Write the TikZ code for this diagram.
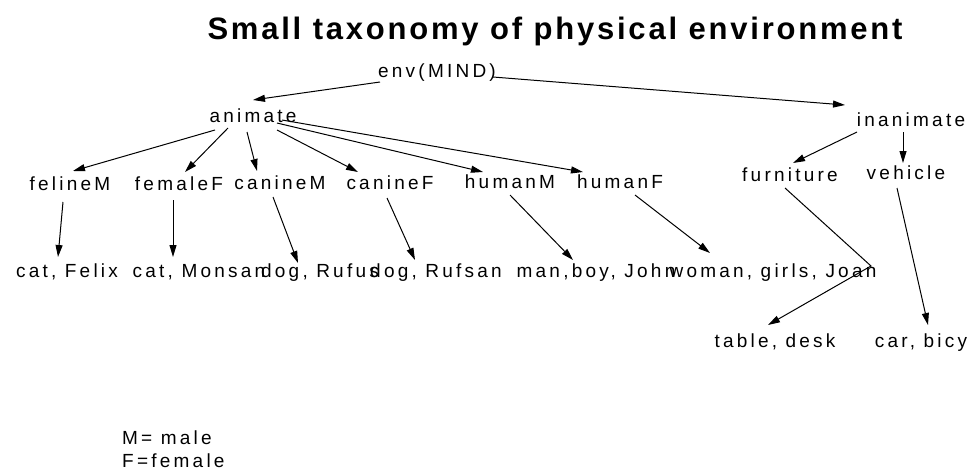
\documentclass[tikz,border=0pt]{standalone}
\usepackage{fontspec}
\setmainfont{Liberation Sans}
\newfontfamily\nodefont[LetterSpace=17]{Liberation Sans}
\newfontfamily\titlefont[LetterSpace=9]{Liberation Sans}
\usetikzlibrary{arrows.meta}
\begin{document}
\begin{tikzpicture}[x=1pt,y=-1pt,
  txt/.style={inner sep=0pt, text height=13.5pt, text depth=4pt, font=\nodefont\fontsize{19}{21}\selectfont},
  titletxt/.style={inner sep=0pt, font=\titlefont\bfseries\fontsize{31}{34}\selectfont},
  arr/.style={draw, line width=1pt, -{Triangle[length=12pt,width=7pt]}}]
\useasboundingbox (0,0) rectangle (977,474);
\fill[white] (0,0) rectangle (977,474);
\node[titletxt] (title) at (555,31) {Small taxonomy of physical environment};
\node[txt] (env) at (437,73) {env(MIND)};
\node[txt] (animate) at (253,118) {animate};
\node[txt] (inanimate) at (911,122) {inanimate};
\node[txt] (felineM) at (70,186) {felineM};
\node[txt] (femaleF) at (179,186) {femaleF};
\node[txt] (canineM) at (280,185) {canineM};
\node[txt] (canineF) at (390,185) {canineF};
\node[txt] (humanM) at (510,184) {humanM};
\node[txt] (humanF) at (620,184) {humanF};
\node[txt] (furniture) at (790,177) {furniture};
\node[txt] (vehicle) at (906,175) {vehicle};
\node[txt] (catFelix) at (67,273) {cat, Felix};
\node[txt] (catMonsan) at (199,273) {cat, Monsan};
\node[txt] (dogRufus) at (320,273) {dog, Rufus};
\node[txt] (dogRufsan) at (436,273) {dog, Rufsan};
\node[txt] (man) at (596,273) {man,boy, John};
\node[txt] (woman) at (773,273) {woman, girls, Joan};
\node[txt] (table) at (775,343) {table, desk};
\node[txt] (car) at (921,343) {car, bicy};
\node[txt, anchor=west] (legM) at (122,440) {M= male};
\node[txt, anchor=west] (legF) at (122,463) {F=female};
\coordinate (bend) at (871,266);
\draw[arr] ([shift={(-57,9)}]env.center) -- ([shift={(0,-18)}]animate.center);
\draw[arr] ([shift={(56,4)}]env.center) -- ([shift={(-66,-17)}]inanimate.center);
\draw[arr] ([shift={(-38,12)}]animate.center) -- ([shift={(3,-15)}]felineM.center);
\draw[arr] ([shift={(-25,10)}]animate.center) -- ([shift={(6,-14)}]femaleF.center);
\draw[arr] ([shift={(-6,14)}]animate.center) -- ([shift={(-23,-14)}]canineM.center);
\draw[arr] ([shift={(24,12)}]animate.center) -- ([shift={(-32,-13)}]canineF.center);
\draw[arr] ([shift={(24,5)}]animate.center) -- ([shift={(-27,-12)}]humanM.center);
\draw[arr] ([shift={(29,2)}]animate.center) -- ([shift={(-37,-12)}]humanF.center);
\draw[arr] ([shift={(-54,10)}]inanimate.center) -- ([shift={(3,-14)}]furniture.center);
\draw[arr] ([shift={(-8,10)}]inanimate.center) -- ([shift={(-3,-12)}]vehicle.center);
\draw[arr] ([shift={(-7,16)}]felineM.center) -- ([shift={(-9,-16)}]catFelix.center);
\draw[arr] ([shift={(-6,14)}]femaleF.center) -- ([shift={(-26,-16)}]catMonsan.center);
\draw[arr] ([shift={(-7,12)}]canineM.center) -- ([shift={(-22,-10)}]dogRufus.center);
\draw[arr] ([shift={(-3,13)}]canineF.center) -- ([shift={(-21,-13)}]dogRufsan.center);
\draw[arr] ([shift={(0,11)}]humanM.center) -- ([shift={(-23,-13)}]man.center);
\draw[arr] ([shift={(15,11)}]humanF.center) -- ([shift={(-63,-20)}]woman.center);
\draw[arr] ([shift={(-5,11)}]furniture.center) -- (bend) -- ([shift={(-7,-18)}]table.center);
\draw[arr] ([shift={(-9,13)}]vehicle.center) -- ([shift={(7,-18)}]car.center);
\end{tikzpicture}
\end{document}
